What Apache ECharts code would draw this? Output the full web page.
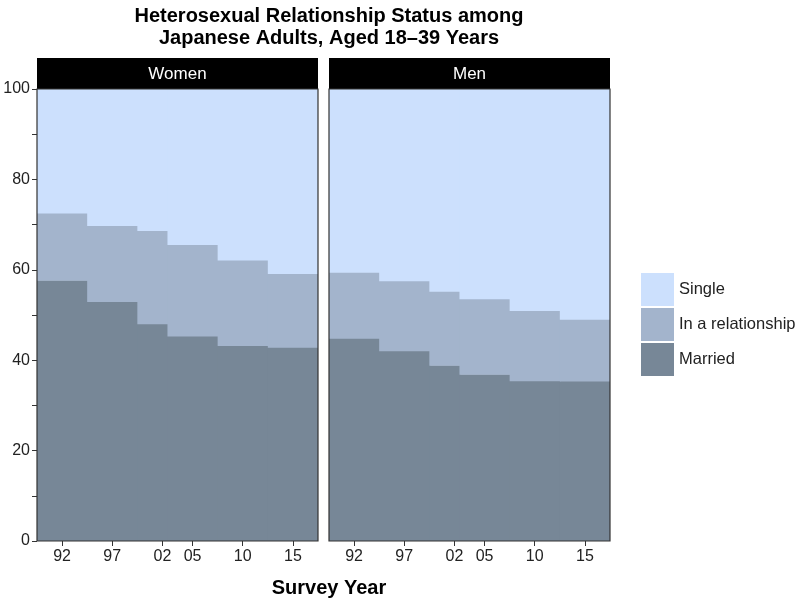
<!DOCTYPE html>
<html>
<head>
<meta charset="utf-8">
<script src="https://cdn.jsdelivr.net/npm/echarts@6/dist/echarts.min.js"></script>
<style>
  html, body { margin: 0; background: #fff; }
  #chart { width: 800px; height: 600px; }
</style>
</head>
<body>
<div id="chart"></div>
<script>
// survey years (each value holds from year-2.5 until the next survey)
const years = [1992, 1997, 2002, 2005, 2010, 2015]
const panels = ['Women', 'Men']
const categories = ['Married', 'In a relationship', 'Single']

// shares in percent
const womenMarried = [57.7, 53.0, 48.1, 45.4, 43.3, 42.9]
const womenRelationship = [14.9, 16.8, 20.6, 20.2, 18.9, 16.3]
const womenSingle = [27.4, 30.2, 31.3, 34.4, 37.8, 40.8]
const menMarried = [44.9, 42.1, 38.9, 36.9, 35.5, 35.4]
const menRelationship = [14.6, 15.5, 16.4, 16.7, 15.5, 13.7]
const menSingle = [40.5, 42.4, 44.7, 46.4, 49.0, 50.9]

const yTicks = [0, 20, 40, 60, 80, 100]

const colors = {
  'Married': '#778797',
  'In a relationship': '#a3b4cc',
  'Single': '#cce0fd',
}
const xMin = 1989.5
const xMax = 2017.5
const font = 'Liberation Sans, Arial, sans-serif'

const panelData = [
  [womenMarried, womenRelationship, womenSingle],
  [menMarried, menRelationship, menSingle],
]

// [x start, x end, bottom, top] for each survey step of one band
function bandRects (sets, c) {
  return years.map((y, i) => {
    let low = 0
    for (let k = 0; k < c; k++) low += sets[k][i]
    const x1 = i < years.length - 1 ? years[i + 1] - 2.5 : xMax
    return [y - 2.5, x1, low, low + sets[c][i]]
  })
}

function renderStep (params, api) {
  const a = api.coord([api.value(0), api.value(3)])
  const b = api.coord([api.value(1), api.value(2)])
  // small overlap so neighbouring steps leave no hairline seams
  return {
    type: 'rect',
    shape: { x: a[0], y: a[1], width: b[0] - a[0] + 1, height: b[1] - a[1] + 0.6 },
    style: { fill: api.visual('color') },
  }
}

const grids = [
  { left: 37, top: 89, width: 281, height: 452 },
  { left: 329, top: 89, width: 281, height: 452 },
]

const xAxes = grids.map((g, i) => ({
  type: 'value',
  gridIndex: i,
  min: xMin,
  max: xMax,
  splitLine: { show: false },
  axisLine: { show: false },
  axisTick: { show: true, customValues: years, length: 5, lineStyle: { color: '#333' } },
  axisLabel: {
    customValues: years,
    formatter: v => String(v).slice(2),
    fontFamily: font, fontSize: 16, color: '#222', margin: 8,
  },
}))

const yAxes = grids.map((g, i) => ({
  type: 'value',
  gridIndex: i,
  min: 0,
  max: 100,
  interval: 10,
  splitLine: { show: false },
  axisLine: { show: false },
  axisTick: { show: i === 0, length: 5, lineStyle: { color: '#333' } },
  axisLabel: {
    show: i === 0,
    formatter: v => (yTicks.indexOf(v) >= 0 ? String(v) : ''),
    fontFamily: font, fontSize: 16, color: '#222', margin: 7,
  },
}))

const series = []
panelData.forEach((sets, p) => {
  sets.forEach((vals, c) => {
    const name = categories[c]
    series.push({
      name: name,
      type: 'custom',
      xAxisIndex: p,
      yAxisIndex: p,
      clip: true,
      silent: true,
      z: 2 + c,
      itemStyle: { color: colors[name] },
      renderItem: renderStep,
      encode: { x: [0, 1], y: [2, 3] },
      data: bandRects(sets, c),
    })
  })
})

const frames = grids.map((g, i) => ({
  type: 'group',
  children: [
    { type: 'rect', shape: { x: g.left, y: 58, width: g.width, height: 31 }, style: { fill: '#000' } },
    {
      type: 'text',
      x: g.left + g.width / 2,
      y: 74,
      style: { text: panels[i], fill: '#fff', font: '17px ' + font, align: 'center', verticalAlign: 'middle' },
    },
    {
      type: 'rect',
      z: 100,
      shape: { x: g.left, y: g.top, width: g.width, height: g.height },
      style: { fill: null, stroke: '#333', lineWidth: 1.2 },
    },
  ],
}))

const chart = echarts.init(document.getElementById('chart'), null, { renderer: 'canvas' })
chart.setOption({
  animation: false,
  backgroundColor: '#fff',
  title: [{
    text: 'Heterosexual Relationship Status among\nJapanese Adults, Aged 18\u201339 Years',
    left: 324,
    top: 0,
    textAlign: 'center',
    textStyle: { fontFamily: font, fontSize: 20, fontWeight: 'bold', color: '#000', lineHeight: 22 },
  }, {
    text: 'Survey Year',
    left: 324,
    top: 573,
    textAlign: 'center',
    textStyle: { fontFamily: font, fontSize: 20, fontWeight: 'bold', color: '#000' },
  }],
  legend: {
    orient: 'vertical',
    left: 641,
    top: 273,
    padding: 0,
    icon: 'rect',
    itemWidth: 33,
    itemHeight: 33,
    itemGap: 2,
    selectedMode: false,
    data: ['Single', 'In a relationship', 'Married'],
    textStyle: { fontFamily: font, fontSize: 16.5, color: '#222' },
  },
  grid: grids,
  xAxis: xAxes,
  yAxis: yAxes,
  series: series,
  graphic: frames,
})
</script>
</body>
</html>
